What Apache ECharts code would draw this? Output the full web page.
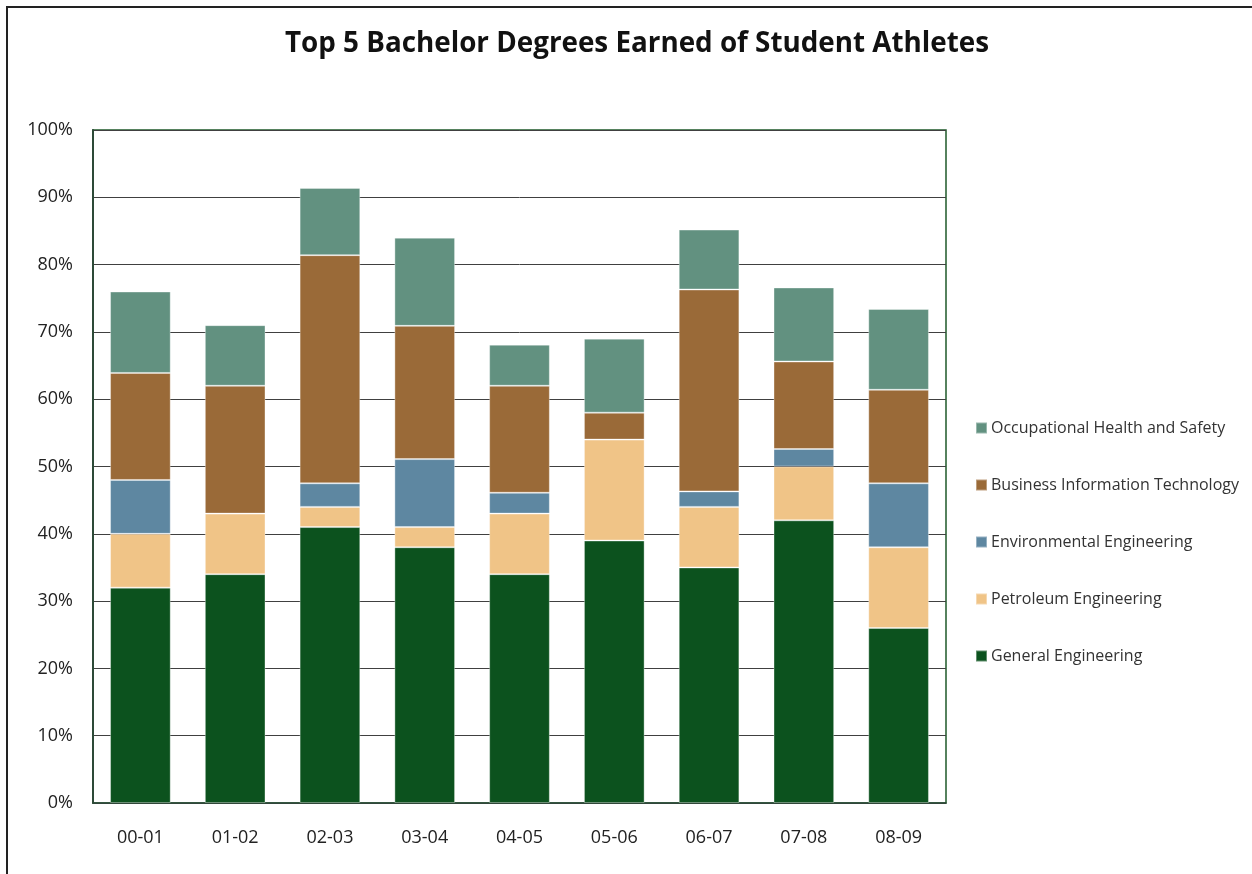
<!DOCTYPE html>
<html>
<head>
<meta charset="utf-8">
<script src="https://cdn.jsdelivr.net/npm/echarts@6/dist/echarts.min.js"></script>
<style>
  html, body { margin: 0; padding: 0; background: #fff; }
  #chart { width: 1252px; height: 874px; }
</style>
</head>
<body>
<div id="chart"></div>
<script>
  const years = ['00-01', '01-02', '02-03', '03-04', '04-05', '05-06', '06-07', '07-08', '08-09']
  const generalEng = [32, 34, 41, 38, 34, 39, 35, 42, 26]
  const petroleumEng = [8, 9, 3, 3, 9, 15, 9, 8, 12]
  const environmentalEng = [8, 0, 3.5, 10.1, 3.1, 0, 2.3, 2.6, 9.5]
  const businessIT = [15.9, 19, 33.9, 19.8, 15.9, 4, 30, 13, 13.9]
  const occHealth = [12.1, 9, 10, 13.1, 6.1, 11, 8.9, 11, 12]

  const font = '"Open Sans", "Noto Sans", sans-serif'

  const chart = echarts.init(document.getElementById('chart'))

  function bar(name, data, color) {
    return {
      name: name,
      type: 'bar',
      stack: 'total',
      barCategoryGap: '36%',
      data: data,
      itemStyle: { color: color, borderColor: 'rgba(255,255,255,0.35)', borderWidth: 1 },
      emphasis: { disabled: true }
    }
  }

  chart.setOption({
    animation: false,
    title: {
      text: 'Top 5 Bachelor Degrees Earned of Student Athletes',
      left: 632,
      textAlign: 'center',
      top: 25,
      textStyle: { fontFamily: font, fontSize: 27.8, fontWeight: 'bold', color: '#111' }
    },
    legend: {
      orient: 'vertical',
      left: 970,
      top: 415,
      itemGap: 41,
      itemWidth: 11,
      itemHeight: 11,
      icon: 'rect',
      data: ['Occupational Health and Safety', 'Business Information Technology',
        'Environmental Engineering', 'Petroleum Engineering', 'General Engineering'],
      textStyle: { fontFamily: font, fontSize: 16, color: '#333', padding: [0, 0, 0, -1] }
    },
    grid: {
      left: 93,
      top: 130,
      width: 853,
      height: 673,
      show: true,
      borderColor: '#1f5a2a',
      borderWidth: 1.5
    },
    xAxis: {
      type: 'category',
      data: years,
      axisTick: { show: false },
      axisLine: { lineStyle: { color: '#2d4a38', width: 1.5 } },
      axisLabel: { fontFamily: font, fontSize: 18, color: '#222', margin: 26 }
    },
    yAxis: {
      type: 'value',
      min: 0,
      max: 100,
      interval: 10,
      axisLine: { show: true, lineStyle: { color: '#2d4a38', width: 2 } },
      axisTick: { show: false },
      axisLabel: { fontFamily: font, fontSize: 18, color: '#222', margin: 20, formatter: '{value}%' },
      splitLine: { lineStyle: { color: '#404040', width: 1 } }
    },
    graphic: [{
      type: 'rect',
      shape: { x: 7, y: 7, width: 1300, height: 900 },
      style: { fill: 'none', stroke: '#222', lineWidth: 2 },
      silent: true
    }],
    series: [
      bar('General Engineering', generalEng, '#0c521e'),
      bar('Petroleum Engineering', petroleumEng, '#f0c487'),
      bar('Environmental Engineering', environmentalEng, '#5e87a1'),
      bar('Business Information Technology', businessIT, '#9a6a38'),
      bar('Occupational Health and Safety', occHealth, '#629180')
    ]
  })
</script>
</body>
</html>
